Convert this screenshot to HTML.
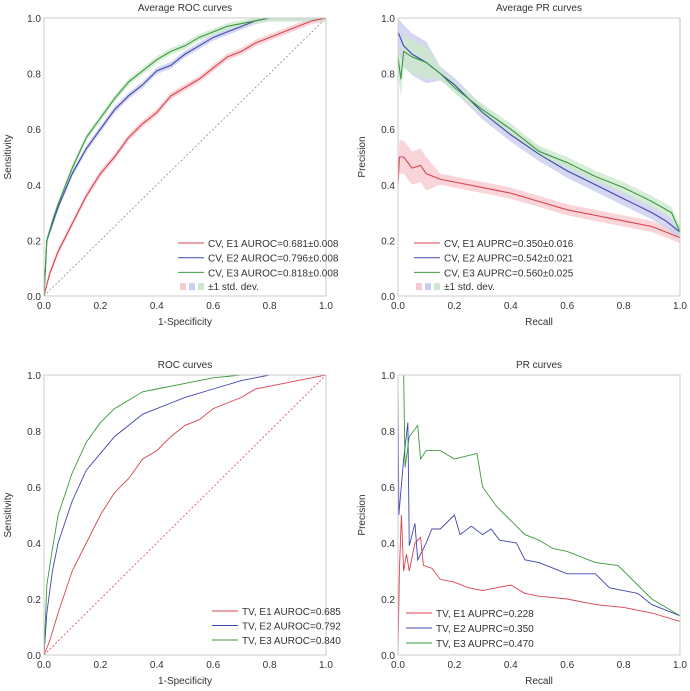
<!DOCTYPE html>
<html><head><meta charset="utf-8"><style>
body{margin:0;background:#fff;}
svg{display:block;font-family:"Liberation Sans",sans-serif;}
text{fill:#333;}
</style></head><body>
<svg id="c" width="690" height="691"></svg>
<script>
// ---- data ----
const p1E1x=[0,0.02,0.05,0.1,0.15,0.2,0.25,0.3,0.35,0.4,0.45,0.5,0.55,0.6,0.65,0.7,0.75,0.8,0.85,0.9,0.95,1];
const p1E1y=[0,0.08,0.16,0.26,0.36,0.44,0.5,0.57,0.62,0.66,0.72,0.75,0.78,0.82,0.86,0.88,0.91,0.93,0.95,0.97,0.99,1];
const p1E2x=[0,0.01,0.03,0.05,0.1,0.15,0.2,0.25,0.3,0.35,0.4,0.45,0.5,0.55,0.6,0.65,0.7,0.75,0.8,1];
const p1E2y=[0,0.2,0.26,0.32,0.44,0.53,0.6,0.67,0.72,0.76,0.81,0.83,0.87,0.9,0.93,0.95,0.97,0.99,1,1];
const p1E3x=[0,0.01,0.03,0.05,0.1,0.15,0.2,0.25,0.3,0.35,0.4,0.45,0.5,0.55,0.6,0.65,0.7,0.75,0.8,1];
const p1E3y=[0,0.2,0.27,0.33,0.46,0.57,0.64,0.71,0.77,0.81,0.85,0.88,0.9,0.93,0.95,0.97,0.98,0.99,1,1];

const p2E1x=[0,0.005,0.02,0.05,0.08,0.1,0.15,0.2,0.3,0.4,0.5,0.6,0.7,0.8,0.9,1];
const p2E1y=[0.4,0.5,0.5,0.46,0.47,0.44,0.42,0.41,0.39,0.37,0.34,0.31,0.29,0.27,0.25,0.21];
const p2E2x=[0,0.02,0.05,0.1,0.15,0.2,0.3,0.4,0.5,0.6,0.7,0.8,0.9,0.95,1];
const p2E2y=[0.95,0.9,0.87,0.84,0.8,0.76,0.66,0.58,0.51,0.45,0.4,0.35,0.3,0.27,0.23];
const p2E3x=[0,0.01,0.02,0.05,0.1,0.15,0.2,0.3,0.4,0.5,0.6,0.7,0.8,0.9,0.97,1,1];
const p2E3y=[0.86,0.78,0.88,0.86,0.84,0.8,0.75,0.67,0.6,0.52,0.48,0.43,0.39,0.34,0.3,0.23,1];

const p3E1x=[0,0.02,0.05,0.1,0.15,0.2,0.25,0.3,0.35,0.4,0.45,0.5,0.55,0.6,0.65,0.7,0.75,0.8,0.85,0.9,0.95,1];
const p3E1y=[0,0.05,0.15,0.3,0.4,0.5,0.58,0.63,0.7,0.73,0.78,0.82,0.84,0.88,0.9,0.92,0.95,0.96,0.97,0.98,0.99,1];
const p3E2x=[0,0.01,0.03,0.05,0.1,0.15,0.2,0.25,0.3,0.35,0.4,0.45,0.5,0.6,0.7,0.8,1];
const p3E2y=[0,0.15,0.3,0.4,0.55,0.66,0.72,0.78,0.82,0.86,0.88,0.9,0.92,0.95,0.98,1,1];
const p3E3x=[0,0.01,0.03,0.05,0.1,0.15,0.2,0.25,0.3,0.35,0.4,0.5,0.6,0.7,1];
const p3E3y=[0,0.25,0.38,0.5,0.65,0.76,0.83,0.88,0.91,0.94,0.95,0.97,0.99,1,1];

const p4E1x=[0,0.005,0.012,0.02,0.03,0.04,0.06,0.08,0.09,0.12,0.15,0.2,0.25,0.3,0.4,0.45,0.5,0.6,0.7,0.8,0.9,1];
const p4E1y=[0,0.3,0.5,0.3,0.36,0.3,0.4,0.42,0.32,0.31,0.27,0.26,0.24,0.23,0.25,0.22,0.21,0.2,0.18,0.17,0.15,0.12];
const p4E2x=[0,0.003,0.02,0.035,0.04,0.06,0.07,0.1,0.12,0.15,0.2,0.22,0.26,0.3,0.33,0.36,0.42,0.45,0.5,0.55,0.6,0.7,0.75,0.85,0.9,1];
const p4E2y=[1,0.5,0.7,0.83,0.39,0.47,0.34,0.4,0.45,0.45,0.5,0.43,0.46,0.43,0.45,0.41,0.4,0.34,0.33,0.31,0.29,0.29,0.24,0.22,0.18,0.14];
const p4E3x=[0.02,0.025,0.04,0.07,0.08,0.1,0.15,0.2,0.28,0.3,0.35,0.4,0.45,0.5,0.55,0.6,0.7,0.78,0.85,0.9,0.95,1];
const p4E3y=[1,0.67,0.78,0.82,0.7,0.73,0.73,0.7,0.72,0.6,0.53,0.48,0.43,0.41,0.38,0.37,0.33,0.32,0.25,0.2,0.17,0.14];

const ticks=[0,0.2,0.4,0.6,0.8,1.0];
const tickLabels=["0.0","0.2","0.4","0.6","0.8","1.0"];
const leg1=["CV, E1 AUROC=0.681\u00b10.008","CV, E2 AUROC=0.796\u00b10.008","CV, E3 AUROC=0.818\u00b10.008"];
const leg2=["CV, E1 AUPRC=0.350\u00b10.016","CV, E2 AUPRC=0.542\u00b10.021","CV, E3 AUPRC=0.560\u00b10.025"];
const leg3=["TV, E1 AUROC=0.685","TV, E2 AUROC=0.792","TV, E3 AUROC=0.840"];
const leg4=["TV, E1 AUPRC=0.228","TV, E2 AUPRC=0.350","TV, E3 AUPRC=0.470"];

const COL=["#d9434f","#4046b0","#3a9a3e"];
const BAND=["#f7c9d0","#c9cdee","#cde8cd"];
const NS="http://www.w3.org/2000/svg";
const svg=document.getElementById('c');
function mk(tag,attrs,parent,txt){const e=document.createElementNS(NS,tag);for(const k in attrs)e.setAttribute(k,attrs[k]);if(txt!==undefined)e.textContent=txt;(parent||svg).appendChild(e);return e;}

function panel(o){
  const g=mk('g',{});
  
  
  const X=v=>o.x0+v*(o.x1-o.x0), Y=v=>o.y1-v*(o.y1-o.y0);
  const t=mk('text',{x:(o.x0+o.x1)/2,y:o.y0-7,'text-anchor':'middle','font-size':10},g,o.title);
  
  
  if(o.diag){const d=mk('line',{x1:X(0),y1:Y(0),x2:X(1),y2:Y(1),stroke:o.diag,'stroke-width':0.8,'stroke-dasharray':'2,2'},g);
    
    }
  o.series.forEach((s,i)=>{
    if(o.band){
      const w=o.band[i];
      let up=s[0].map((x,j)=>X(x)+','+Y(Math.min(1,s[1][j]+w*(o.bandScale?o.bandScale(x):1)))).join(' ');
      let dn=s[0].map((x,j)=>X(x)+','+Y(Math.max(0,s[1][j]-w*(o.bandScale?o.bandScale(x):1)))).reverse().join(' ');
      const b=mk('polygon',{points:up+' '+dn,fill:BAND[i],opacity:0.8},g);
      
      
    }
  });
  o.series.forEach((s,i)=>{
    let pts=s[0].map((x,j)=>X(x)+','+Y(s[1][j]));
    const l=mk('polyline',{points:pts.join(' '),fill:'none',stroke:COL[i],'stroke-width':o.lw||1.1},g);
    
    
  });
  const fr=mk('rect',{x:o.x0,y:o.y0,width:o.x1-o.x0,height:o.y1-o.y0,fill:'none',stroke:'#ccc','stroke-width':1},g);
  
  
  ticks.forEach((v,i)=>{
    const a=mk('text',{x:X(v),y:o.y1+13,'text-anchor':'middle','font-size':10},g,tickLabels[i]);
    
    
    const b=mk('text',{x:o.x0-3,y:Y(v)+4,'text-anchor':'end','font-size':10},g,tickLabels[i]);
    
    
  });
  const xl=mk('text',{x:(o.x0+o.x1)/2,y:o.y1+29,'text-anchor':'middle','font-size':10},g,o.xlab);
  
  
  const yc=(o.y0+o.y1)/2, yx=o.x0-33;
  const yl=mk('text',{x:yx,y:yc,'text-anchor':'middle','font-size':10,transform:'rotate(-90 '+yx+' '+yc+')'},g,o.ylab);
  
  
  o.leg.forEach((txt,i)=>{
    const y=o.ly+i*o.ldy;
    const ln=mk('line',{x1:o.lx,y1:y,x2:o.lx+26,y2:y,stroke:COL[i],'stroke-width':1},g);
    
    
    const tx=mk('text',{x:o.lx+30,y:y+4,'font-size':10},g,txt);
    
    
  });
  if(o.band){
    const y=o.ly+3*o.ldy-1;
    for(let i=0;i<3;i++){const r=mk('rect',{x:o.lx+2+i*9,y:y-3,width:6,height:7,fill:BAND[i]},g);
      
      }
    const tx=mk('text',{x:o.lx+30,y:y+4,'font-size':10},g,'\u00b11 std. dev.');
    
    
  }
}
panel({name:'average-roc-panel',title:'Average ROC curves',x0:44,x1:326,y0:18,y1:296,xlab:'1-Specificity',ylab:'Sensitivity',
  series:[[p1E1x,p1E1y],[p1E2x,p1E2y],[p1E3x,p1E3y]],band:[0.012,0.012,0.012],diag:'#7a9a7a',leg:leg1,lx:178,ly:243,ldy:14.7});
panel({name:'average-pr-panel',title:'Average PR curves',x0:398,x1:680,y0:18,y1:296,xlab:'Recall',ylab:'Precision',
  series:[[p2E1x,p2E1y],[p2E2x,p2E2y],[p2E3x,p2E3y]],band:[0.02,0.025,0.02],bandScale:x=>x<0.15?3:1,leg:leg2,lx:414,ly:243,ldy:14.7});
panel({name:'roc-panel',title:'ROC curves',x0:44,x1:326,y0:375,y1:655,xlab:'1-Specificity',ylab:'Sensitivity',lw:0.9,
  series:[[p3E1x,p3E1y],[p3E2x,p3E2y],[p3E3x,p3E3y]],diag:'#d9434f',leg:leg3,lx:212,ly:611,ldy:14.5});
panel({name:'pr-panel',title:'PR curves',x0:398,x1:680,y0:375,y1:655,xlab:'Recall',ylab:'Precision',lw:0.9,
  series:[[p4E1x,p4E1y],[p4E2x,p4E2y],[p4E3x,p4E3y]],leg:leg4,lx:406,ly:613,ldy:15});
</script>
</body></html>
